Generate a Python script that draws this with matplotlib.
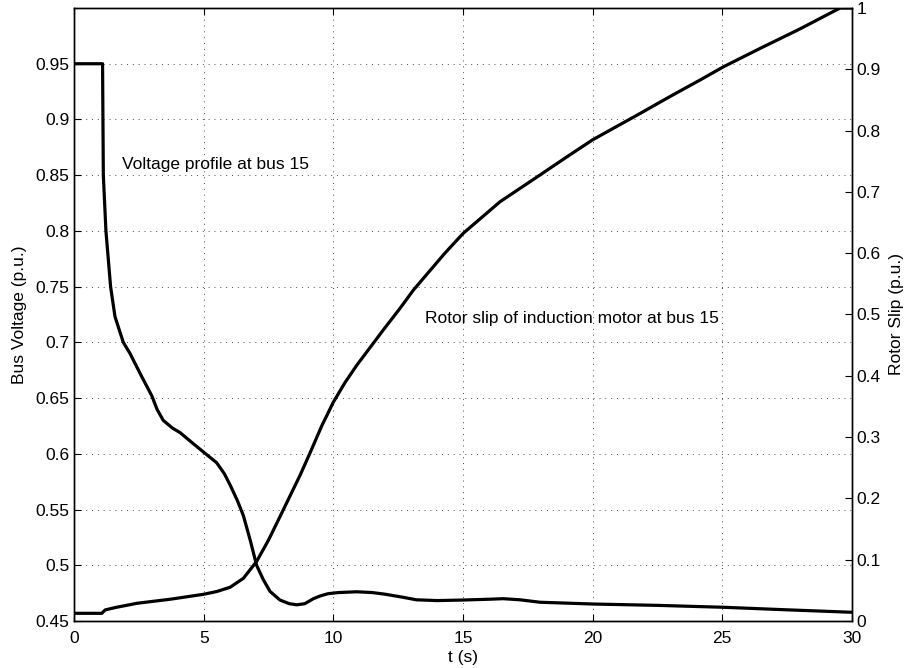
import numpy as np
import matplotlib
matplotlib.use("Agg")
import matplotlib.pyplot as plt

plt.rcParams['font.family'] = ['Liberation Sans', 'DejaVu Sans']

# bus voltage at bus 15 (left axis)
t_volt = [0, 1.10, 1.13, 1.23, 1.41, 1.58, 1.90, 2.16, 2.55, 3.0, 3.2, 3.44,
          3.8, 4.09, 4.5, 4.97, 5.5, 5.8, 6.02, 6.3, 6.53, 6.8, 7.04, 7.3,
          7.56, 7.94, 8.3, 8.59, 8.9, 9.23, 9.5, 9.8, 10.2, 10.9, 11.5,
          12.0, 12.7, 13.2, 14.0, 15.0, 16.0, 16.55, 17.2, 17.97, 19.0,
          20.03, 22.5, 25.04, 27.5, 30.0]
volt = [0.95, 0.95, 0.85, 0.80, 0.75, 0.723, 0.70, 0.69, 0.672, 0.652, 0.640,
        0.630, 0.623, 0.619, 0.611, 0.602, 0.592, 0.582, 0.572, 0.558, 0.5446,
        0.522, 0.50, 0.487, 0.4765, 0.4688, 0.4655, 0.4645, 0.4655, 0.470,
        0.4725, 0.4745, 0.4755, 0.4762, 0.4755, 0.474, 0.4712, 0.469, 0.4683,
        0.4688, 0.4695, 0.470, 0.469, 0.4668, 0.466, 0.4652, 0.464, 0.4623,
        0.460, 0.4578]

# rotor slip of induction motor (right axis)
t_slip = [0, 1.07, 1.2, 1.6, 2.42, 3.7, 4.99, 5.5, 6.02, 6.53, 7.04, 7.5,
          7.94, 8.72, 9.10, 9.55, 10.0, 10.45, 10.9, 11.93, 12.57, 13.09,
          14.3, 15.01, 16.43, 17.97, 19.0, 20.0, 21.83, 23.0, 24.14, 25.04,
          26.5, 28.0, 29.54, 30.0]
slip = [0.0125, 0.0125, 0.018, 0.022, 0.0288, 0.0354, 0.0435, 0.048, 0.055,
        0.0696, 0.097, 0.132, 0.170, 0.238, 0.274, 0.318, 0.357, 0.389, 0.417,
        0.475, 0.510, 0.540, 0.600, 0.6325, 0.684, 0.7276, 0.757, 0.785,
        0.828, 0.856, 0.8825, 0.904, 0.935, 0.966, 1.0, 1.0]

fig = plt.figure(figsize=(9.05, 6.68), dpi=100)
ax = fig.add_axes([0.0818, 0.0704, 0.8596, 0.9176])

ax.plot(t_volt, volt, color='k', lw=2.3)
ax.set_xlim(0, 30)
ax.set_ylim(0.45, 1.0)
ax.set_xticks(np.arange(0, 31, 5))
ax.set_yticks(np.arange(0.45, 0.96, 0.05))
ax.set_yticklabels(['%g' % round(v, 2) for v in np.arange(0.45, 0.96, 0.05)])
ax.grid(True, color='0.3', linestyle=(0, (1, 5)), linewidth=0.7)
ax.tick_params(direction='in', top=True, right=True, length=5, labelsize=12.5)
ax.tick_params(axis='x', pad=7)
ax.set_xlabel('t (s)', fontsize=12.5, labelpad=3)
ax.set_ylabel('Bus Voltage (p.u.)', fontsize=12.5, labelpad=6)

ax.text(1.85, 0.860, 'Voltage profile at bus 15', fontsize=12.5, va='center')
ax.text(13.54, 0.7216, 'Rotor slip of induction motor at bus 15', fontsize=12.5, va='center')

ax2 = ax.twinx()
ax2.plot(t_slip, slip, color='k', lw=2.3)
ax2.set_ylim(0, 1)
ax2.set_yticks(np.arange(0, 1.01, 0.1))
ax2.set_yticklabels(['%g' % round(v, 1) for v in np.arange(0, 1.01, 0.1)])
ax2.tick_params(direction='in', length=5, labelsize=12.5)
ax2.set_ylabel('Rotor Slip (p.u.)', fontsize=12.5, labelpad=6)

for a in (ax, ax2):
    for s in a.spines.values():
        s.set_linewidth(1.0)

fig.savefig('out.png', dpi=100)
